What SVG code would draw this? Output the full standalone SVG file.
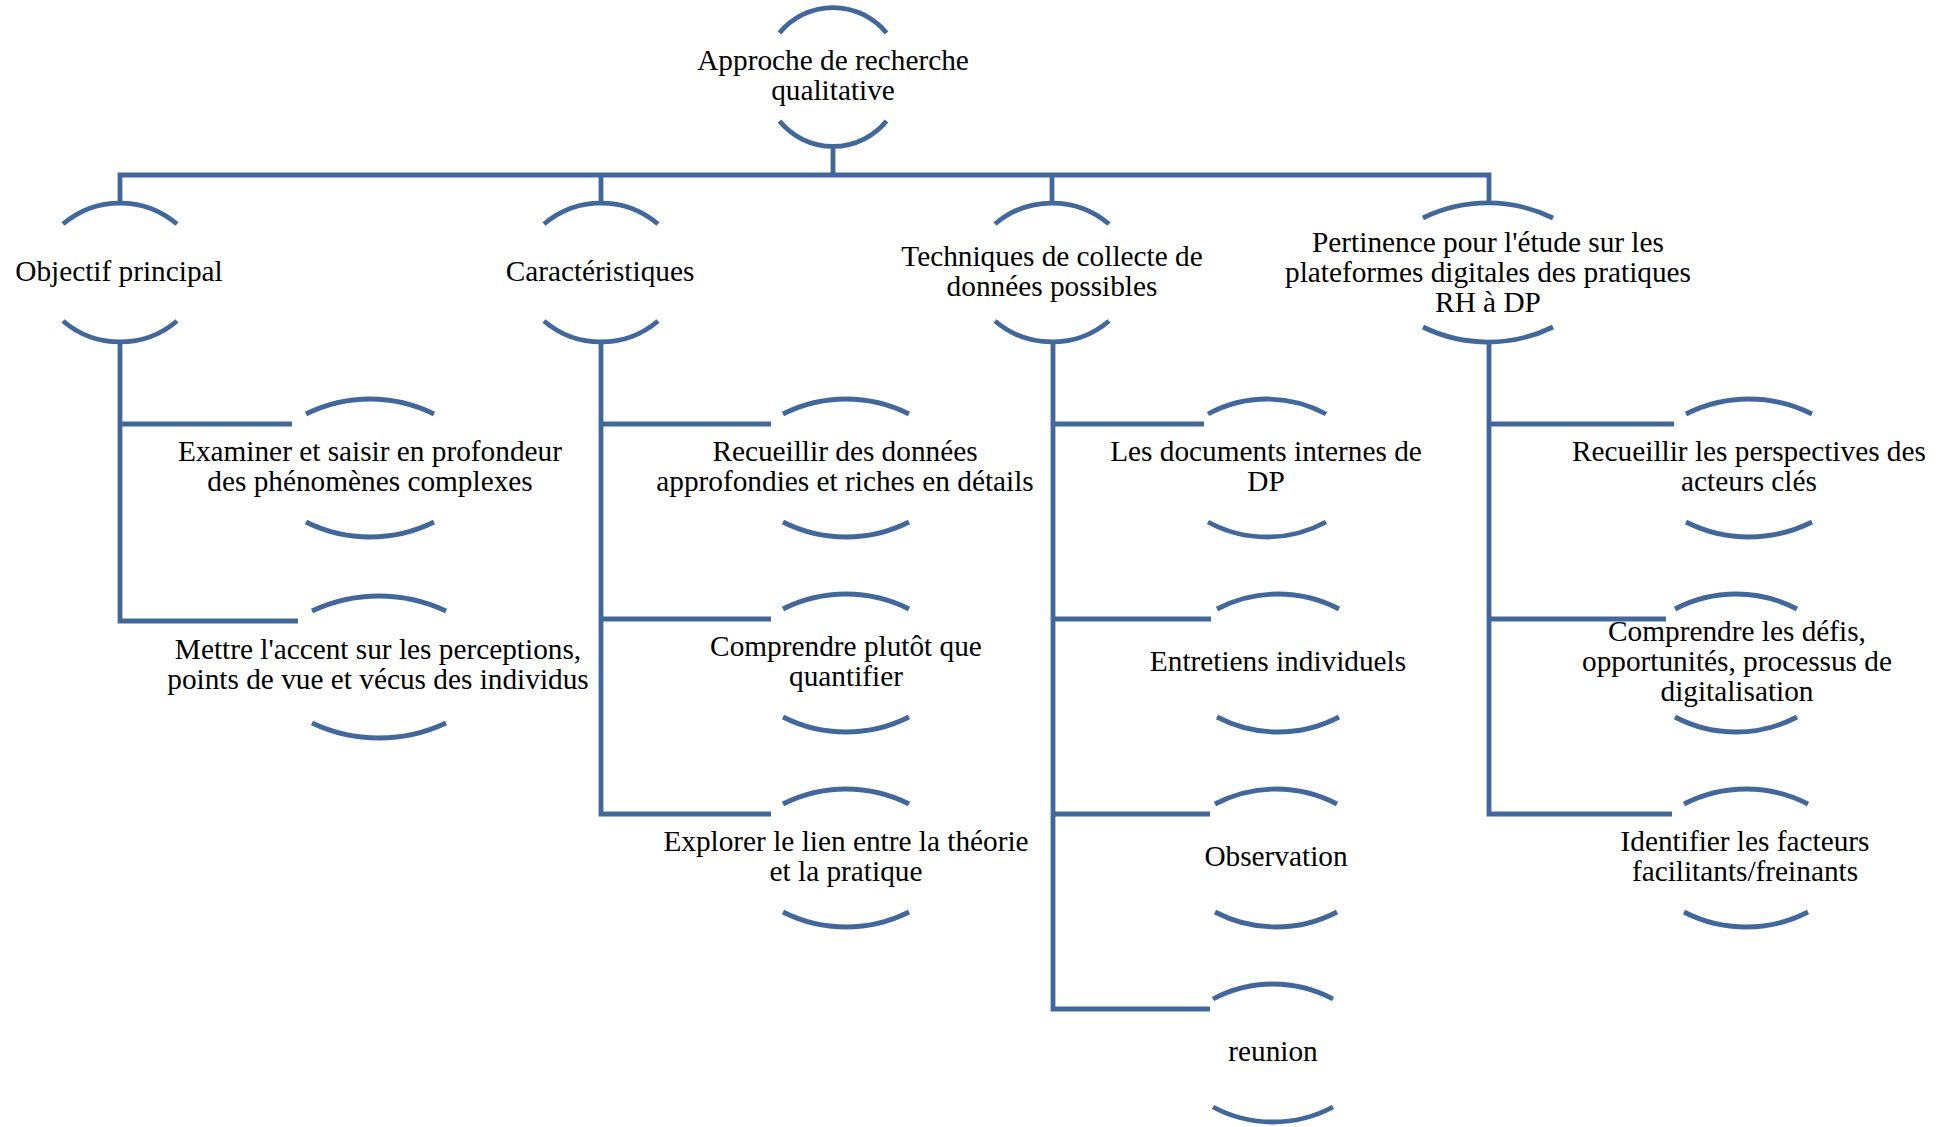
<svg xmlns="http://www.w3.org/2000/svg" width="1952" height="1127" viewBox="0 0 1952 1127">
<style>
.ln{fill:none;stroke:#42689b;stroke-width:4.8;stroke-linejoin:miter;stroke-linecap:butt}
.arc{fill:none;stroke:#42689b;stroke-width:4.8;stroke-linecap:butt}
text{font-family:"Liberation Serif","Times New Roman",serif;font-size:29.3px;fill:#000;text-anchor:middle}
</style>
<rect width="1952" height="1127" fill="#fff"/>
<g id="connectors">
<path class="ln" d="M833,146 V175"/>
<path class="ln" d="M120,203 V175 H1489 V203"/>
<path class="ln" d="M601,175 V203"/>
<path class="ln" d="M1052,175 V203"/>
<path class="ln" d="M120,342 V621 H298"/>
<path class="ln" d="M120,424 H292"/>
<path class="ln" d="M601,342 V814 H771"/>
<path class="ln" d="M601,424 H771 M601,619 H771"/>
<path class="ln" d="M1053,342 V1009 H1210"/>
<path class="ln" d="M1053,424 H1204 M1053,619 H1211 M1053,814 H1210"/>
<path class="ln" d="M1489,342 V814 H1672"/>
<path class="ln" d="M1489,424 H1674 M1489,619 H1666"/>
</g>
<g id="n-root">
<path class="arc" d="M779.5,33 A69 69 0 0 1 886.5,33"/>
<path class="arc" d="M779.5,121 A69 69 0 0 0 886.5,121"/>
<text x="833" y="70">Approche de recherche</text>
<text x="833" y="100">qualitative</text>
</g>
<g id="n-objectif">
<path class="arc" d="M63,224 A88 88 0 0 1 177,224"/>
<path class="arc" d="M63,321 A88 88 0 0 0 177,321"/>
<text x="119" y="281">Objectif principal</text>
</g>
<g id="n-caracteristiques">
<path class="arc" d="M544,224 A88 88 0 0 1 658,224"/>
<path class="arc" d="M544,321 A88 88 0 0 0 658,321"/>
<text x="600" y="281">Caractéristiques</text>
</g>
<g id="n-techniques">
<path class="arc" d="M995,224 A88 88 0 0 1 1109,224"/>
<path class="arc" d="M995,321 A88 88 0 0 0 1109,321"/>
<text x="1052" y="266">Techniques de collecte de</text>
<text x="1052" y="296">données possibles</text>
</g>
<g id="n-pertinence">
<path class="arc" d="M1423,218 A148 148 0 0 1 1553,218"/>
<path class="arc" d="M1423,327 A148 148 0 0 0 1553,327"/>
<text x="1488" y="252">Pertinence pour l'étude sur les</text>
<text x="1488" y="282">plateformes digitales des pratiques</text>
<text x="1488" y="312">RH à DP</text>
</g>
<g id="n-examiner">
<path class="arc" d="M306,414 A144 144 0 0 1 434,414"/>
<path class="arc" d="M306,522 A144 144 0 0 0 434,522"/>
<text x="370" y="461">Examiner et saisir en profondeur</text>
<text x="370" y="491">des phénomènes complexes</text>
</g>
<g id="n-mettre">
<path class="arc" d="M312,611 A157 157 0 0 1 446,611"/>
<path class="arc" d="M312,723 A157 157 0 0 0 446,723"/>
<text x="378" y="659">Mettre l'accent sur les perceptions,</text>
<text x="378" y="689">points de vue et vécus des individus</text>
</g>
<g id="n-recueillir-donnees">
<path class="arc" d="M783,414 A140 140 0 0 1 909,414"/>
<path class="arc" d="M783,522 A140 140 0 0 0 909,522"/>
<text x="845" y="461">Recueillir des données</text>
<text x="845" y="491">approfondies et riches en détails</text>
</g>
<g id="n-comprendre-quantifier">
<path class="arc" d="M783,609 A140 140 0 0 1 909,609"/>
<path class="arc" d="M783,717 A140 140 0 0 0 909,717"/>
<text x="846" y="656">Comprendre plutôt que</text>
<text x="846" y="686">quantifier</text>
</g>
<g id="n-explorer">
<path class="arc" d="M783,804 A140 140 0 0 1 909,804"/>
<path class="arc" d="M783,912 A140 140 0 0 0 909,912"/>
<text x="846" y="851">Explorer le lien entre la théorie</text>
<text x="846" y="881">et la pratique</text>
</g>
<g id="n-documents">
<path class="arc" d="M1208,414 A123.5 123.5 0 0 1 1326,414"/>
<path class="arc" d="M1208,522 A123.5 123.5 0 0 0 1326,522"/>
<text x="1266" y="461">Les documents internes de</text>
<text x="1266" y="491">DP</text>
</g>
<g id="n-entretiens">
<path class="arc" d="M1217,609 A131.5 131.5 0 0 1 1339,609"/>
<path class="arc" d="M1217,717 A131.5 131.5 0 0 0 1339,717"/>
<text x="1278" y="671">Entretiens individuels</text>
</g>
<g id="n-observation">
<path class="arc" d="M1215,804 A131.5 131.5 0 0 1 1337,804"/>
<path class="arc" d="M1215,912 A131.5 131.5 0 0 0 1337,912"/>
<text x="1276" y="866">Observation</text>
</g>
<g id="n-reunion">
<path class="arc" d="M1213,999 A127.5 127.5 0 0 1 1333,999"/>
<path class="arc" d="M1213,1107 A127.5 127.5 0 0 0 1333,1107"/>
<text x="1273" y="1061">reunion</text>
</g>
<g id="n-perspectives">
<path class="arc" d="M1686,414 A140 140 0 0 1 1812,414"/>
<path class="arc" d="M1686,522 A140 140 0 0 0 1812,522"/>
<text x="1749" y="461">Recueillir les perspectives des</text>
<text x="1749" y="491">acteurs clés</text>
</g>
<g id="n-defis">
<path class="arc" d="M1675,609 A131.5 131.5 0 0 1 1797,609"/>
<path class="arc" d="M1675,717 A131.5 131.5 0 0 0 1797,717"/>
<text x="1737" y="641">Comprendre les défis,</text>
<text x="1737" y="671">opportunités, processus de</text>
<text x="1737" y="701">digitalisation</text>
</g>
<g id="n-identifier">
<path class="arc" d="M1684,804 A135.6 135.6 0 0 1 1808,804"/>
<path class="arc" d="M1684,912 A135.6 135.6 0 0 0 1808,912"/>
<text x="1745" y="851">Identifier les facteurs</text>
<text x="1745" y="881">facilitants/freinants</text>
</g>
</svg>
